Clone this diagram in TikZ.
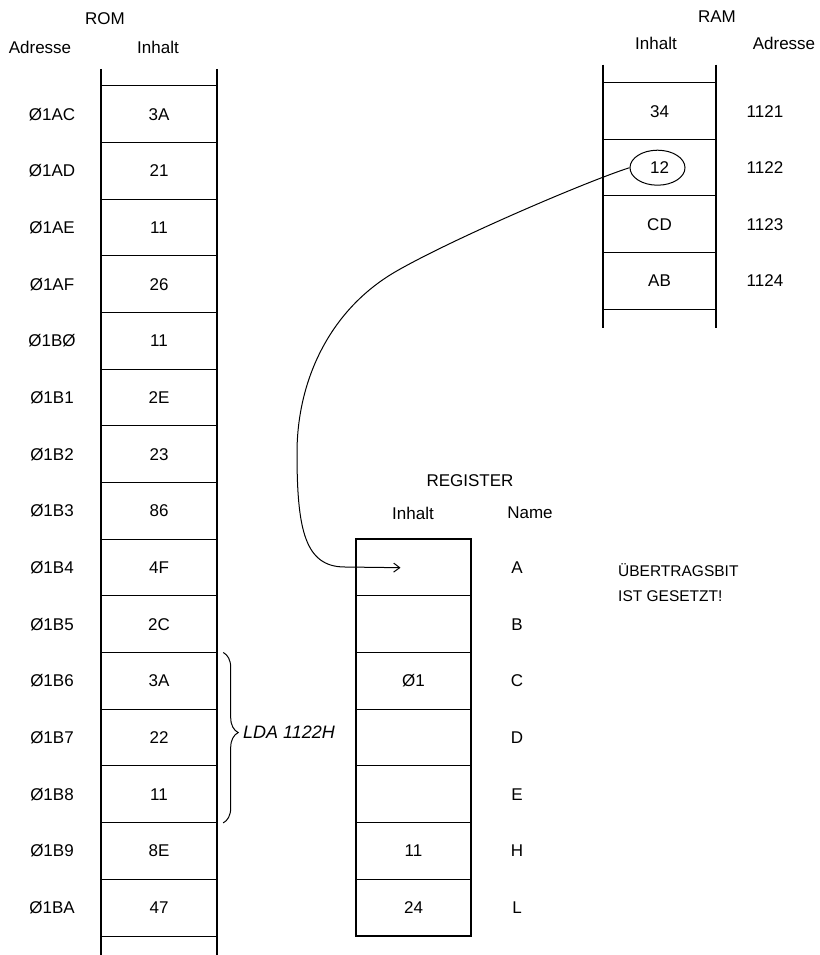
\documentclass[tikz,border=0pt]{standalone}
\usepackage{fontspec}
\setmainfont{Liberation Sans}
\usetikzlibrary{arrows.meta,positioning,calc,shapes.geometric,decorations.pathreplacing}
\tikzset{
  txt/.style={font=\fontsize{17}{20}\selectfont, inner sep=0pt},
  cell/.style={txt, minimum width=116pt, minimum height=56.67pt},
  ramcell/.style={cell, minimum width=113pt, minimum height=56.5pt},
  regcell/.style={cell, minimum width=115pt},
  rail/.style={line width=2.2pt},
  sep/.style={line width=1.1pt},
  frame/.style={line width=2pt},
  hand/.style={line width=1pt},
  arr/.style={hand, -{Straight Barb[length=6pt,width=9pt]}},
}

\begin{document}
\begin{tikzpicture}[x=1pt, y=-1pt]
  \useasboundingbox (0,0) rectangle (819,955);

  % ROM
  \node[txt] (romtitle) at (105,19) {ROM};
  \node[txt] (romadr) at (40,47) {Adresse};
  \node[txt] (rominh) at (158,47) {Inhalt};
  \foreach \i/\ad/\val in {0/Ø1AC/3A, 1/Ø1AD/21, 2/Ø1AE/11, 3/Ø1AF/26, 4/Ø1BØ/11,
      5/Ø1B1/2E, 6/Ø1B2/23, 7/Ø1B3/86, 8/Ø1B4/4F, 9/Ø1B5/2C, 10/Ø1B6/3A,
      11/Ø1B7/22, 12/Ø1B8/11, 13/Ø1B9/8E, 14/Ø1BA/47}
  {
    \node[cell] (rom\i) at (159,114.3+\i*56.67) {\val};
    \node[txt] (romad\i) at (52,114.3+\i*56.67) {\ad};
    \draw[sep] (rom\i.north west) -- (rom\i.north east);
  }
  \draw[sep] (rom14.south west) -- (rom14.south east);
  \draw[rail] ([yshift=17pt]rom0.north west) -- ([yshift=-20pt]rom14.south west);
  \draw[rail] ([yshift=17pt]rom0.north east) -- ([yshift=-20pt]rom14.south east);

  % LDA-Befehl
  \draw[hand, decorate, decoration={brace, amplitude=15pt, aspect=0.47}]
    ([xshift=6pt]rom10.north east) -- ([xshift=6pt]rom12.south east);
  \node[txt, anchor=west, font=\fontsize{18}{20}\selectfont\itshape] (lda) at (243,732) {LDA 1122H};

  % RAM
  \node[txt] (ramtitle) at (717,17) {RAM};
  \node[txt] (raminh) at (656,43) {Inhalt};
  \node[txt] (ramadr) at (784,43) {Adresse};
  \foreach \i/\ad/\val in {0/1121/34, 1/1122/12, 2/1123/CD, 3/1124/AB}
  {
    \node[ramcell] (ram\i) at (659.5,111.2+\i*56.5) {\val};
    \node[txt] (ramad\i) at (765,111.2+\i*56.5) {\ad};
    \draw[sep] (ram\i.north west) -- (ram\i.north east);
  }
  \draw[sep] (ram3.south west) -- (ram3.south east);
  \draw[rail] ([yshift=18pt]ram0.north west) -- ([yshift=-19pt]ram3.south west);
  \draw[rail] ([yshift=18pt]ram0.north east) -- ([yshift=-19pt]ram3.south east);
  \node[ellipse, hand, draw, minimum width=55pt, minimum height=35pt] (hit) at ([xshift=-2pt]ram1.center) {};

  % REGISTER
  \node[txt] (regtitle) at (470,481) {REGISTER};
  \node[txt] (reginh) at (413,513) {Inhalt};
  \node[txt] (regname) at (530,513) {Name};
  \foreach \i/\nm/\val in {0/A/{}, 1/B/{}, 2/C/Ø1, 3/D/{}, 4/E/{}, 5/H/11, 6/L/24}
  {
    \node[regcell] (reg\i) at (413.5,567.7+\i*56.67) {\val};
    \node[txt] (regnm\i) at (517,567.7+\i*56.67) {\nm};
  }
  \foreach \i in {1,...,6}
    \draw[sep] (reg\i.north west) -- (reg\i.north east);
  \draw[frame] (reg0.north west) rectangle (reg6.south east);

  \node[txt, anchor=west, align=left, font=\fontsize{15.5}{25}\selectfont] (carry) at (618,582.5)
    {ÜBERTRAGSBIT\\IST GESETZT!};

  % Transfer RAM -> A
  \coordinate (tip) at ([xshift=-13pt]reg0.center);
  \draw[arr] (hit.west) .. controls (585,182) and (450,240) .. (395,272)
    .. controls (330,310) and (297,380) .. (297,453)
    .. controls (297,530) and (305,567) .. (345,567) -- (tip);
\end{tikzpicture}
\end{document}
